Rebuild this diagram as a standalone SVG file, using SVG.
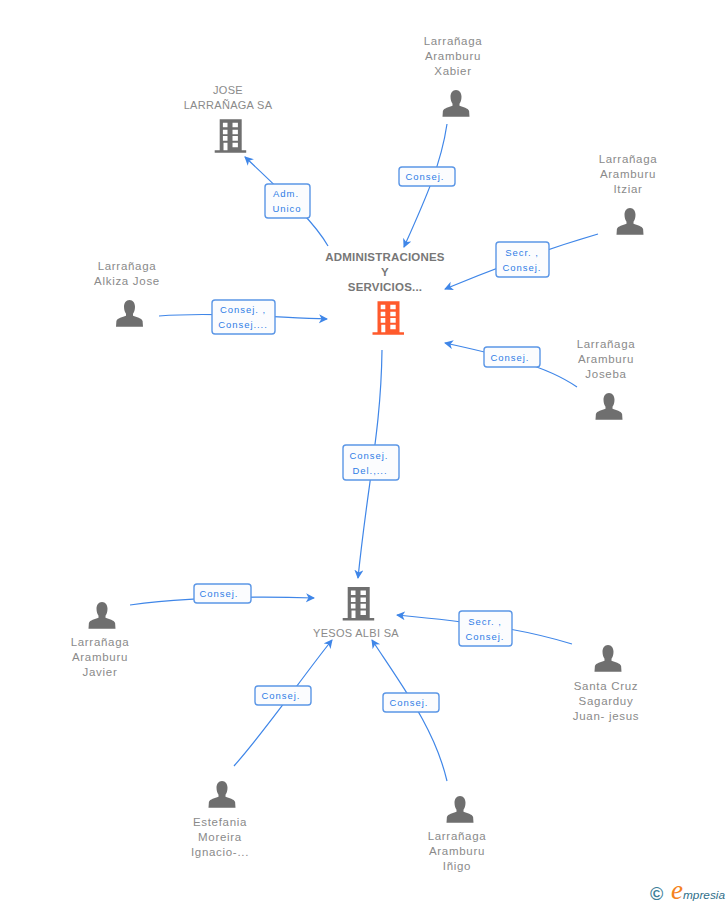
<svg xmlns="http://www.w3.org/2000/svg" width="728" height="905" viewBox="0 0 728 905">
<style>
text{font-family:"Liberation Sans",Arial,sans-serif}
.n{font-size:11.5px;fill:#8a8a8a;text-anchor:middle;letter-spacing:.7px}
.u{font-size:11px;letter-spacing:.3px}
.b{font-weight:bold;font-size:11.5px;letter-spacing:.2px;fill:#777}
.c{fill:none;stroke:#3f86e8;stroke-width:1.2;marker-end:url(#a)}
.l rect{fill:#fbfcfe;stroke:#5b96e6;stroke-width:1.4}
.l text{font-size:9.5px;fill:#2f7de6;text-anchor:middle;letter-spacing:.95px}
.p{fill:#6f6f6f}
</style>
<defs>
<marker id="a" markerWidth="11" markerHeight="10" refX="8" refY="4.5" orient="auto" markerUnits="userSpaceOnUse"><path d="M0 0L9 4.5L0 9L2.5 4.5Z" fill="#3f86e8"/></marker>
<path id="person" d="M13.5 0C17 0 19 3 19 6.8C19 10 18 12.4 17 13.8L17 15.8C20.5 17.4 25.6 18 26.6 21L27 26.7L0 26.7L.4 21C1.4 18 6.5 17.4 10 15.8L10 13.8C9 12.4 8 10 8 6.8C8 3 10 0 13.5 0Z"/>
<path id="bld" fill-rule="evenodd" d="M5 0H27V31H31.5V33.5H0V31H5ZM8.2 3.4V8H12.8V3.4ZM17.8 3.4V8H23.2V3.4ZM8.2 10.4V15H12.8V10.4ZM17.8 10.4V15H23.2V10.4ZM8.2 16.8V21.4H12.8V16.8ZM17.8 16.8V21.4H23.2V16.8ZM8.8 23.4V31H12.8V23.4ZM17.8 23.4V28H23.2V23.4Z"/>
</defs>
<g id="connectors">
<path class="c" d="M328 246C316 225 295 204 245 157"/>
<path class="c" d="M447 124C441 165 425 200 404 247"/>
<path class="c" d="M598 234C550 248 495 268 445 289"/>
<path class="c" d="M577 387C545 365 500 355 445 343"/>
<path class="c" d="M159 316C210 312 270 317 327 319"/>
<path class="c" d="M382 350C381 430 368 480 358 578"/>
<path class="c" d="M130 605C190 597 250 596 314 598"/>
<path class="c" d="M572 644C520 628 470 622 397 615"/>
<path class="c" d="M234 766C270 725 300 680 332 640"/>
<path class="c" d="M447 781C435 730 405 690 372 640"/>
</g>
<g id="edge-labels" class="l">
<g><rect x="265" y="184" width="45" height="34" rx="3"/><text x="286" y="197">Adm.</text><text x="287" y="212">Unico</text></g>
<g><rect x="399" y="167" width="56" height="19" rx="3"/><text x="425" y="180">Consej.</text></g>
<g><rect x="496" y="242" width="53" height="35" rx="3"/><text x="522" y="256">Secr. ,</text><text x="522" y="271">Consej.</text></g>
<g><rect x="484" y="347" width="56" height="20" rx="3"/><text x="510" y="361">Consej.</text></g>
<g><rect x="212" y="300" width="63" height="34" rx="3"/><text x="243" y="313">Consej. ,</text><text x="243" y="328">Consej....</text></g>
<g><rect x="343" y="445" width="56" height="35" rx="3"/><text x="369" y="459">Consej.</text><text x="370" y="474">Del.,...</text></g>
<g><rect x="194" y="584" width="57" height="19" rx="3"/><text x="219" y="597">Consej.</text></g>
<g><rect x="459" y="611" width="53" height="35" rx="3"/><text x="485" y="625">Secr. ,</text><text x="485" y="640">Consej.</text></g>
<g><rect x="255" y="686" width="56" height="19" rx="3"/><text x="281" y="699">Consej.</text></g>
<g><rect x="383" y="693" width="56" height="19" rx="3"/><text x="409" y="706">Consej.</text></g>
</g>
<g id="node-jose"><text class="n u" x="228" y="94">JOSE</text><text class="n u" x="228" y="109">LARRAÑAGA SA</text><use href="#bld" x="214.7" y="119.3" fill="#6f6f6f"/></g>
<g id="node-admin"><text class="n b" x="385" y="261">ADMINISTRACIONES</text><text class="n b" x="385" y="276">Y</text><text class="n b" x="385" y="291">SERVICIOS...</text><use href="#bld" x="372.5" y="301.3" fill="#ff5a2c"/></g>
<g id="node-yesos"><use href="#bld" x="342.7" y="587" fill="#6f6f6f"/><text class="n u" x="356" y="637">YESOS ALBI SA</text></g>
<g id="node-xabier"><text class="n" x="453" y="45">Larrañaga</text><text class="n" x="453" y="60">Aramburu</text><text class="n" x="453" y="75">Xabier</text><use class="p" href="#person" x="442.5" y="90"/></g>
<g id="node-itziar"><text class="n" x="628" y="163">Larrañaga</text><text class="n" x="628" y="178">Aramburu</text><text class="n" x="628" y="193">Itziar</text><use class="p" href="#person" x="616.5" y="208"/></g>
<g id="node-alkiza"><text class="n" x="127" y="270">Larrañaga</text><text class="n" x="127" y="285">Alkiza Jose</text><use class="p" href="#person" x="116" y="300"/></g>
<g id="node-joseba"><text class="n" x="606" y="348">Larrañaga</text><text class="n" x="606" y="363">Aramburu</text><text class="n" x="606" y="378">Joseba</text><use class="p" href="#person" x="595.5" y="393"/></g>
<g id="node-javier"><use class="p" href="#person" x="88.5" y="602"/><text class="n" x="100" y="646">Larrañaga</text><text class="n" x="100" y="661">Aramburu</text><text class="n" x="100" y="676">Javier</text></g>
<g id="node-santa"><use class="p" href="#person" x="594.5" y="645"/><text class="n" x="606" y="690">Santa Cruz</text><text class="n" x="606" y="705">Sagarduy</text><text class="n" x="606" y="720">Juan- jesus</text></g>
<g id="node-estefania"><use class="p" href="#person" x="208.5" y="781"/><text class="n" x="220" y="826">Estefania</text><text class="n" x="220" y="841">Moreira</text><text class="n" x="220" y="856">Ignacio-...</text></g>
<g id="node-inigo"><use class="p" href="#person" x="446.5" y="796"/><text class="n" x="457" y="840">Larrañaga</text><text class="n" x="457" y="855">Aramburu</text><text class="n" x="457" y="870">Iñigo</text></g>
<g id="logo"><text x="650" y="900" style="font-size:18px;font-weight:bold;fill:#3f7f9a">©</text><text x="671" y="899" style="font-family:'Liberation Serif',serif;font-style:italic;font-size:27px;fill:#f58220">e</text><text x="683" y="899" style="font-size:11.8px;font-style:italic;fill:#2f6f8a">mpresia</text></g>
</svg>
